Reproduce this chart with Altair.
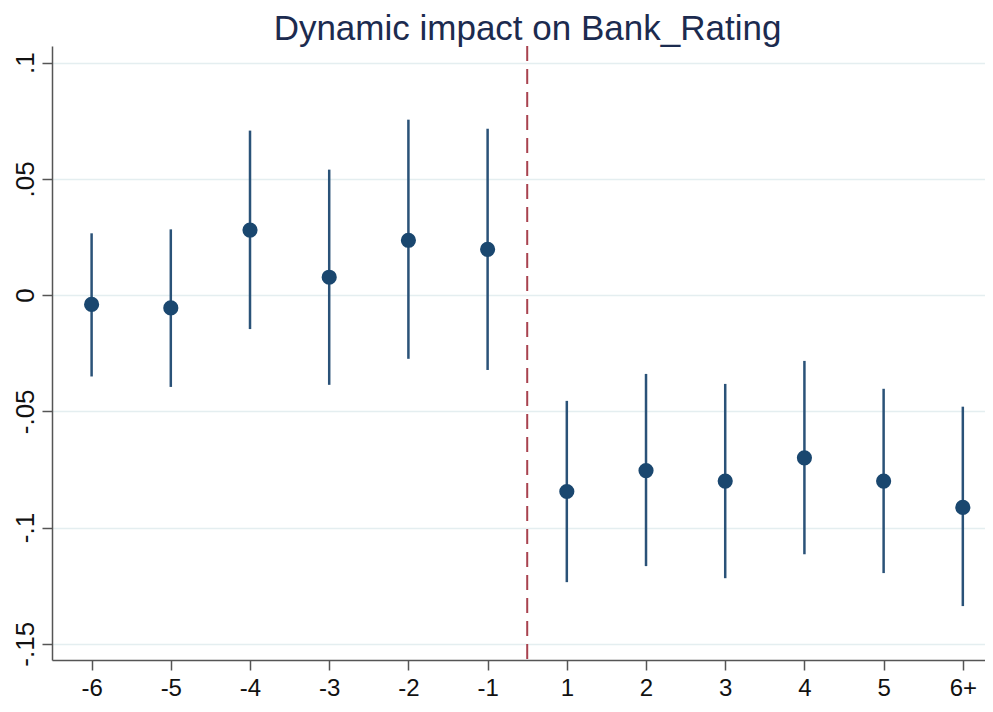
import altair as alt
import pandas as pd

# ---- data ----
periods = ["-6", "-5", "-4", "-3", "-2", "-1", "1", "2", "3", "4", "5", "6+"]
coef = [-0.004, -0.0055, 0.028, 0.0077, 0.0236, 0.0197, -0.0845, -0.0755, -0.080, -0.070, -0.080, -0.0913]
ci_low = [-0.035, -0.0395, -0.0146, -0.0386, -0.0274, -0.0322, -0.1235, -0.1166, -0.1218, -0.1115, -0.1196, -0.1338]
ci_high = [0.0266, 0.0283, 0.0708, 0.054, 0.0755, 0.0716, -0.0455, -0.0339, -0.0382, -0.0283, -0.0403, -0.048]
y_ticks = [-0.15, -0.1, -0.05, 0, 0.05, 0.1]
y_tick_labels = ["-.15", "-.1", "-.05", "0", ".05", ".1"]
event_line = [6.5]

df = pd.DataFrame({
    "pos": list(range(1, len(periods) + 1)),
    "period": periods,
    "coef": coef,
    "lo": ci_low,
    "hi": ci_high,
})
vline = pd.DataFrame({"x": event_line})

x_label_expr = "[" + ",".join(f"'{p}'" for p in periods) + "][datum.value - 1]"
y_label_expr = "".join(
    f"abs(datum.value - ({v})) < 1e-9 ? '{l}' : " for v, l in zip(y_ticks, y_tick_labels)
) + "''"

FONT = "Liberation Sans"
AXIS_COLOR = "#555555"

x_scale = alt.Scale(domain=[0.5, 12.28], nice=False, zero=False)
y_scale = alt.Scale(domain=[-0.157, 0.1072], nice=False, zero=False)

x_axis = alt.Axis(
    values=list(range(1, len(periods) + 1)),
    labelExpr=x_label_expr,
    title=None,
    grid=False,
    tickSize=10,
    tickWidth=1.5,
    tickColor=AXIS_COLOR,
    domainColor=AXIS_COLOR,
    domainWidth=1.5,
    labelFont=FONT,
    labelFontSize=24,
    labelColor="#111111",
    labelPadding=6,
)
y_axis = alt.Axis(
    values=y_ticks,
    labelExpr=y_label_expr,
    title=None,
    grid=True,
    gridColor="#e4eef0",
    gridWidth=1.5,
    tickSize=10,
    tickWidth=1.5,
    tickColor=AXIS_COLOR,
    domainColor=AXIS_COLOR,
    domainWidth=1.5,
    labelFont=FONT,
    labelFontSize=26,
    labelColor="#111111",
    labelAngle=270,
    labelAlign="center",
    labelBaseline="bottom",
    labelPadding=4,
)

base = alt.Chart(df)

rules = base.mark_rule(color="#2a5278", strokeWidth=2.5).encode(
    x=alt.X("pos:Q", scale=x_scale, axis=x_axis),
    y=alt.Y("lo:Q", scale=y_scale, axis=y_axis),
    y2="hi:Q",
)

points = base.mark_circle(color="#1a476f", opacity=1, size=230).encode(
    x=alt.X("pos:Q", scale=x_scale),
    y=alt.Y("coef:Q", scale=y_scale),
)

dash = alt.Chart(vline).mark_rule(
    color="#a8424f", strokeWidth=2, strokeDash=[15, 8]
).encode(x=alt.X("x:Q", scale=x_scale))

chart = alt.layer(rules, dash, points).properties(
    width=933,
    height=614,
    autosize=alt.AutoSizeParams(type="none"),
    padding={"left": 44, "top": 38, "right": 0, "bottom": 44},
    background="white",
    title=alt.TitleParams(
        "Dynamic impact on Bank_Rating",
        font=FONT,
        fontSize=35,
        fontWeight="normal",
        color="#1c2b4f",
        anchor="middle",
        offset=-2,
        dx=9,
    ),
).configure_view(stroke=None)

chart.save("out.html", embed_options={"renderer": "svg", "actions": False})
